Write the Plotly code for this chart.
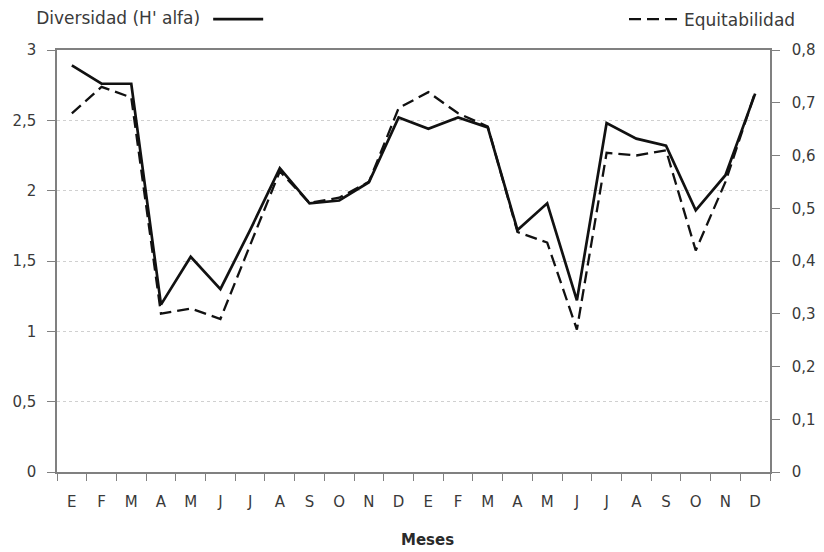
import plotly.graph_objects as go

meses = ["E", "F", "M", "A", "M", "J", "J", "A", "S", "O", "N", "D",
         "E", "F", "M", "A", "M", "J", "J", "A", "S", "O", "N", "D"]
diversidad = [2.89, 2.76, 2.76, 1.19, 1.53, 1.30, 1.72, 2.16, 1.91, 1.93, 2.06, 2.52,
              2.44, 2.52, 2.45, 1.72, 1.91, 1.22, 2.48, 2.37, 2.32, 1.86, 2.11, 2.69]
equitabilidad = [0.68, 0.73, 0.71, 0.30, 0.31, 0.29, 0.43, 0.57, 0.51, 0.52, 0.55, 0.69,
                 0.72, 0.68, 0.655, 0.455, 0.435, 0.27, 0.605, 0.60, 0.61, 0.42, 0.55, 0.72]
y1_ticks = [0, 0.5, 1, 1.5, 2, 2.5, 3]
y2_ticks = [0, 0.1, 0.2, 0.3, 0.4, 0.5, 0.6, 0.7, 0.8]

xs = list(range(len(meses)))
x_bounds = [i - 0.5 for i in range(len(meses) + 1)]
font = "DejaVu Sans, Liberation Sans, sans-serif"
txt = "#3a3a3a"
axc = "#808080"

fig = go.Figure()
fig.add_trace(go.Scatter(x=xs, y=diversidad, mode="lines", name=" ",
                         line=dict(color="#111111", width=2.7),
                         legend="legend", yaxis="y", showlegend=True))
fig.add_trace(go.Scatter(x=xs, y=equitabilidad, mode="lines", name="Equitabilidad",
                         line=dict(color="#111111", width=2.3, dash="12px,6px"),
                         legend="legend2", yaxis="y2", showlegend=True))

fig.update_layout(
    width=824, height=552,
    margin=dict(l=49, r=62, t=42, b=88, autoexpand=False),
    paper_bgcolor="white", plot_bgcolor="white",
    showlegend=True,
    separators=",.",
    font=dict(family=font, size=15, color=txt),
    xaxis=dict(
        range=[-0.5, 23.5], tickmode="array", tickvals=xs, ticktext=meses,
        ticks="", showgrid=False, zeroline=False, ticklabelstandoff=15,
        showline=True, linecolor=axc, linewidth=1.5, mirror=True,
        minor=dict(tickmode="array", tickvals=x_bounds, ticks="outside",
                   ticklen=7, tickcolor=axc, tickwidth=1.3, showgrid=False),
        tickfont=dict(size=15, color=txt),
    ),
    xaxis2=dict(
        range=[-0.5, 23.5], overlaying="x", anchor="y", side="bottom",
        tickmode="array", tickvals=x_bounds, ticks="inside", ticklen=7,
        tickcolor=axc, tickwidth=1.3, showticklabels=False,
        showgrid=False, zeroline=False, showline=False,
    ),
    yaxis=dict(
        range=[0, 3], tickmode="array", tickvals=y1_ticks,
        ticks="outside", ticklen=8, tickcolor=axc, tickwidth=1.3,
        showline=True, linecolor=axc, linewidth=1.5,
        showgrid=True, gridcolor="#d0d0d0", griddash="dot", gridwidth=1,
        zeroline=False, tickfont=dict(size=15, color=txt), ticklabelstandoff=8,
    ),
    yaxis3=dict(
        range=[0, 3], tickmode="array", tickvals=y1_ticks,
        overlaying="y", side="left", anchor="x",
        ticks="inside", ticklen=8, tickcolor=axc, tickwidth=1.3,
        showticklabels=False, showline=False, showgrid=False, zeroline=False,
    ),
    yaxis2=dict(
        range=[0, 0.8], tickmode="array", tickvals=y2_ticks,
        overlaying="y", side="right", anchor="x",
        ticks="outside", ticklen=8, tickcolor=axc, tickwidth=1.3,
        showline=True, linecolor=axc, linewidth=1.5,
        showgrid=False, zeroline=False, tickfont=dict(size=15, color=txt),
        ticklabelstandoff=9,
    ),
    yaxis4=dict(
        range=[0, 0.8], tickmode="array", tickvals=y2_ticks,
        overlaying="y", side="right", anchor="x",
        ticks="inside", ticklen=8, tickcolor=axc, tickwidth=1.3,
        showticklabels=False, showline=False, showgrid=False, zeroline=False,
    ),
    legend=dict(
        x=-0.032, xanchor="left", y=1.072, yanchor="middle",
        orientation="h", bgcolor="rgba(0,0,0,0)", borderwidth=0,
        title=dict(text="Diversidad (H' alfa)", side="left",
                   font=dict(size=17, color=txt)),
        font=dict(size=17, color=txt), itemwidth=50,
    ),
    legend2=dict(
        x=1.0435, xanchor="right", y=1.072, yanchor="middle",
        orientation="h", bgcolor="rgba(0,0,0,0)", borderwidth=0,
        font=dict(size=17, color=txt), itemwidth=50,
    ),
    annotations=[dict(
        text="<b>Meses</b>", xref="paper", yref="paper",
        x=(428 - 57) / 713, y=(472 - 540) / 422, xanchor="center", yanchor="middle",
        showarrow=False, font=dict(family=font, size=15, color="#2a2a2a"),
    )],
)

fig.write_html("out.html")
